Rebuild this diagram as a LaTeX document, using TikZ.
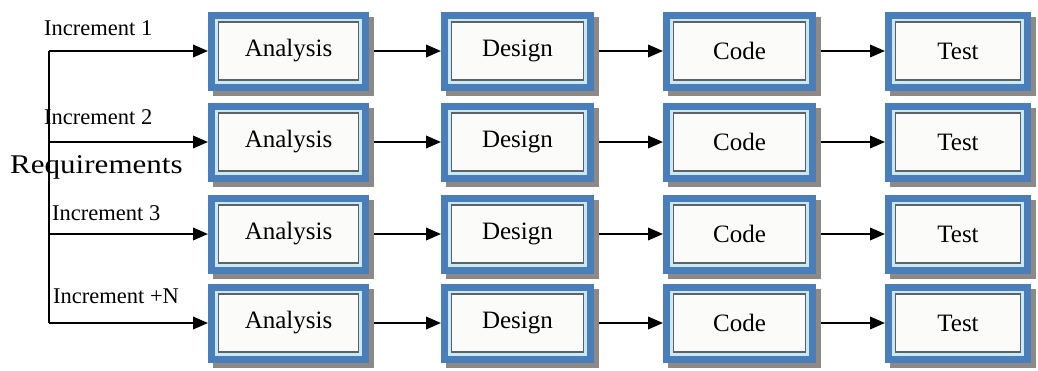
\documentclass[tikz,border=0pt]{standalone}
\usepackage{fontspec}
\setmainfont{Liberation Serif}
\newfontfamily\reqfont{Liberation Serif}[FakeStretch=1.15]
\usetikzlibrary{arrows.meta,shadows}

\definecolor{frameblue}{HTML}{4A7EBB}
\definecolor{shadegrey}{HTML}{8E8984}
\definecolor{rimcyan}{HTML}{C9E9F6}
\definecolor{rimgrey}{HTML}{5E6266}
\definecolor{panel}{HTML}{FBFCF9}

\tikzset{
  % framed stage box: thick blue frame, grey drop shadow, two thin inner rims
  stagebox/.style={
    rectangle, inner sep=0pt, minimum width=#1, minimum height=72pt,
    fill=panel, draw=frameblue, line width=7pt,
    font=\fontsize{25}{30}\selectfont,
    drop shadow={shadow xshift=5pt, shadow yshift=-5pt, opacity=1,
                 fill=shadegrey, draw=shadegrey},
    path picture={
      \draw[rimcyan, line width=2.6pt]
        ([shift={(4.8pt,-4.8pt)}]path picture bounding box.north west) rectangle
        ([shift={(-4.8pt,4.8pt)}]path picture bounding box.south east);
      \draw[rimgrey, line width=1.3pt]
        ([shift={(7pt,-7pt)}]path picture bounding box.north west) rectangle
        ([shift={(-7pt,7pt)}]path picture bounding box.south east);
    }
  },
  inclabel/.style={anchor=base west, inner sep=0pt,
                   font=\fontsize{22.5}{27}\selectfont},
  flow/.style={line width=2pt, -{Triangle[length=15pt,width=12.5pt]}},
  spine/.style={line width=2pt}
}

\begin{document}
\begin{tikzpicture}[x=1pt, y=-1pt]
\useasboundingbox (0,0) rectangle (1038,370);

% four increments, each passing through the same four stages
\foreach \r/\yy in {1/51, 2/142, 3/234, 4/323} {
  \node[stagebox=154pt] (an\r) at (288.5,\yy) {Analysis};
  \node[stagebox=146pt] (de\r) at (517.5,\yy) {Design};
  \node[stagebox=146pt] (co\r) at (739.5,\yy) {Code};
  \node[stagebox=139pt] (te\r) at (958,\yy)   {Test};
  \coordinate (sp\r) at (49,\yy);
}

% requirements feed every increment
\draw[spine] (sp1) -- (sp4);
\foreach \r in {1,2,3,4} {
  \draw[flow] (sp\r) -- (an\r.west);
  \draw[flow, shorten <=5pt] (an\r.east) -- (de\r.west);
  \draw[flow, shorten <=5pt] (de\r.east) -- (co\r.west);
  \draw[flow, shorten <=5pt] (co\r.east) -- (te\r.west);
}

\node[inclabel] (inc1) at (44,35)  {Increment 1};
\node[inclabel] (inc2) at (44,124) {Increment 2};
\node[inclabel] (inc3) at (52,220) {Increment 3};
\node[inclabel] (incn) at (53,303) {Increment +N};

\node[anchor=base west, inner sep=0pt, font=\reqfont\fontsize{27}{32}\selectfont]
  (req) at (10,173) {Requirements};
\end{tikzpicture}
\end{document}
